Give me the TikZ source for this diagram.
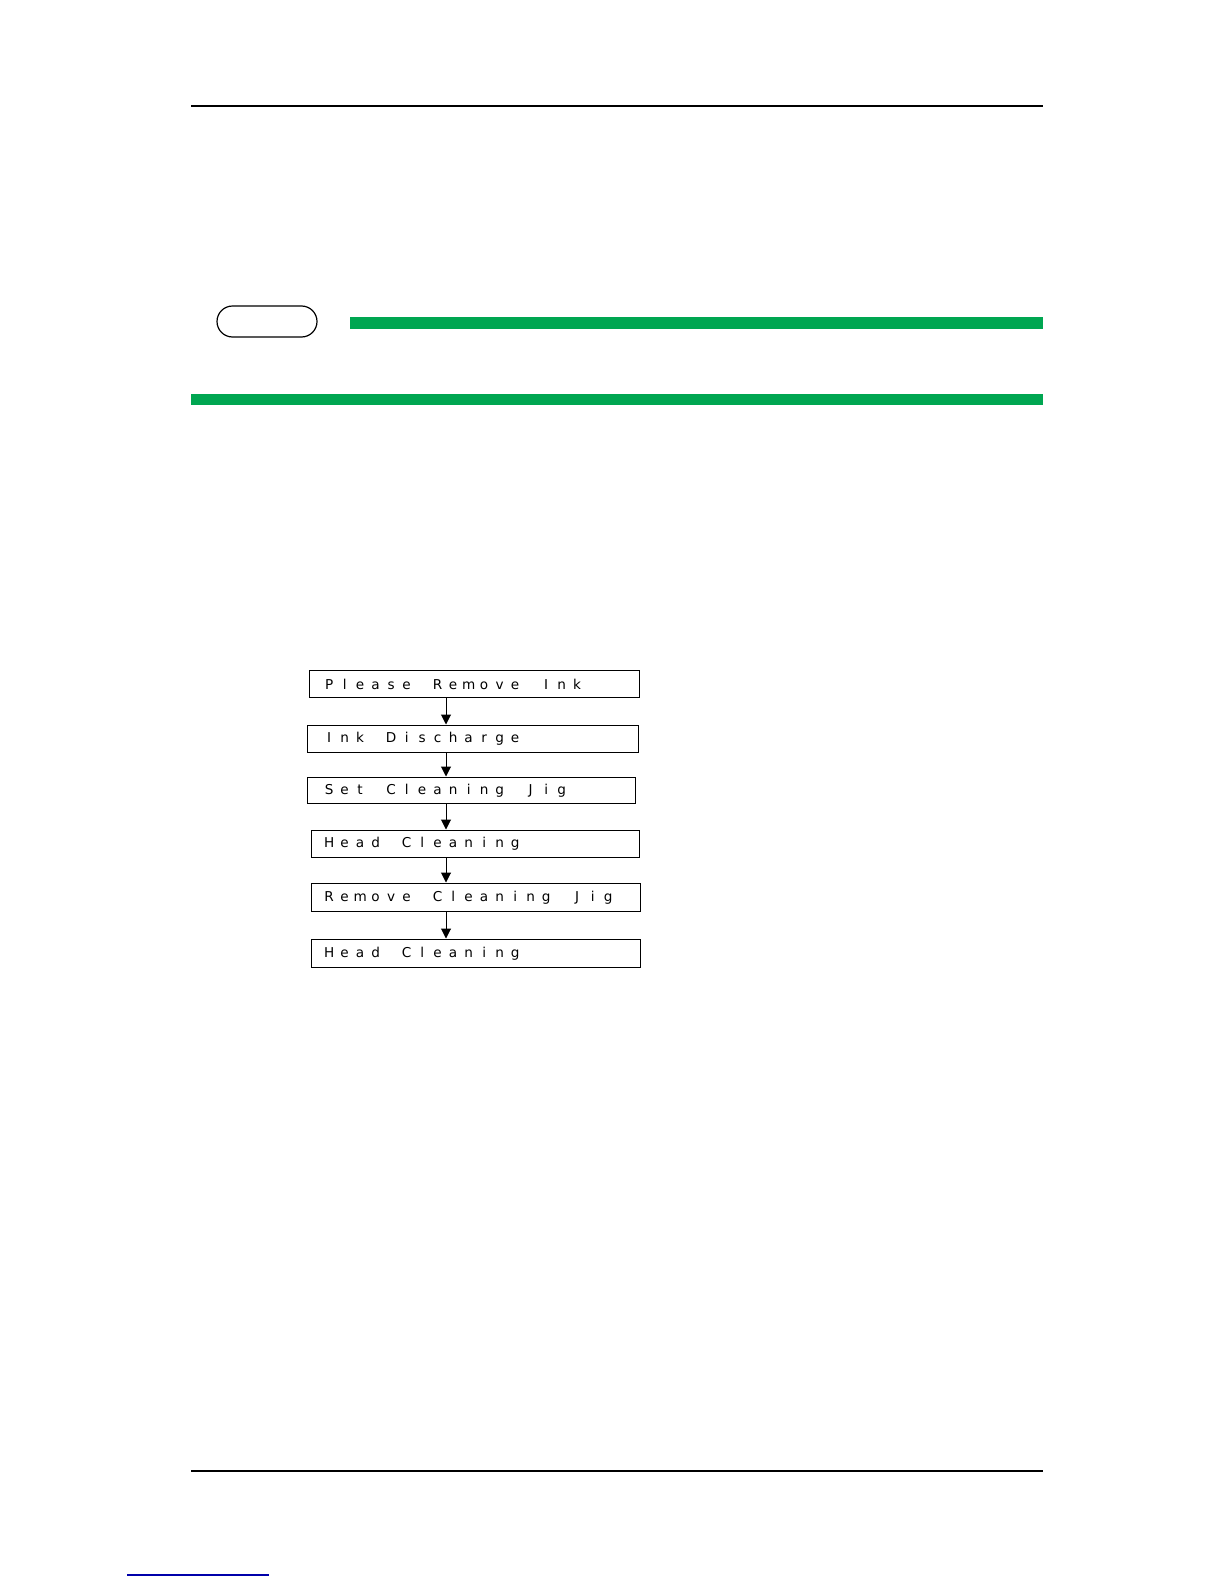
\documentclass[tikz,border=0pt]{standalone}
\usepackage{fontspec}
\setmainfont{DejaVu Sans}
\usetikzlibrary{arrows.meta,shapes.misc}
\definecolor{bargreen}{RGB}{0,166,81}
\definecolor{linkblue}{RGB}{0,0,170}
\newcommand{\spaced}[1]{\spacedA#1\relax}
\def\spacedA#1{\ifx#1\relax\else\makebox[7.75pt][c]{#1}\expandafter\spacedA\fi}
\begin{document}
\begin{tikzpicture}[x=0.5pt,y=-0.5pt,
  flowbox/.style={draw, line width=0.5pt, rectangle, inner sep=0pt},
  flowtext/.style={anchor=west, inner sep=0pt, font=\fontsize{6.8}{7.5}\selectfont},
  flowarrow/.style={line width=0.5pt, -{Triangle[length=5pt,width=5pt]}},
  pagerule/.style={line width=1.3pt},
  greenbar/.style={fill=bargreen, draw=none}]
\useasboundingbox (0,0) rectangle (1224,1584);
\fill[white] (0,0) rectangle (1224,1584);
% header rule
\draw[pagerule] (191,106) -- (1043,106);
% tag and green bars
\node[draw, rounded rectangle, line width=0.6pt, minimum width=50pt, minimum height=15.5pt, inner sep=0pt] (tag) at (267,321.5) {};
\fill[greenbar] (350,317) rectangle (1043,329);
\fill[greenbar] (191,394) rectangle (1043,405);
% flowchart
\node[flowbox, minimum width=165pt, minimum height=13.5pt] (b1) at (474,683.5) {};
\node[flowbox, minimum width=165.5pt, minimum height=13.5pt] (b2) at (472.5,738.5) {};
\node[flowbox, minimum width=164pt, minimum height=13pt] (b3) at (471,790) {};
\node[flowbox, minimum width=164pt, minimum height=13.5pt] (b4) at (475,843.5) {};
\node[flowbox, minimum width=164.5pt, minimum height=14pt] (b5) at (475.5,897) {};
\node[flowbox, minimum width=164.5pt, minimum height=14pt] (b6) at (475.5,953) {};
\node[flowtext] (t1) at (321,684) {\spaced{Please~Remove~Ink}};
\node[flowtext] (t2) at (321,739) {\spaced{Ink~Discharge}};
\node[flowtext] (t3) at (321,790.5) {\spaced{Set~Cleaning~Jig}};
\node[flowtext] (t4) at (321,844) {\spaced{Head~Cleaning}};
\node[flowtext] (t5) at (321,897.5) {\spaced{Remove~Cleaning~Jig}};
\node[flowtext] (t6) at (321,953.5) {\spaced{Head~Cleaning}};
\coordinate (ax) at (446,0);
\draw[flowarrow] (b1.south -| ax) -- (b2.north -| ax);
\draw[flowarrow] (b2.south -| ax) -- (b3.north -| ax);
\draw[flowarrow] (b3.south -| ax) -- (b4.north -| ax);
\draw[flowarrow] (b4.south -| ax) -- (b5.north -| ax);
\draw[flowarrow] (b5.south -| ax) -- (b6.north -| ax);
% footer rule and link line
\draw[pagerule] (191,1471) -- (1043,1471);
\draw[linkblue, line width=0.6pt] (127,1575) -- (269,1575);
\end{tikzpicture}
\end{document}
